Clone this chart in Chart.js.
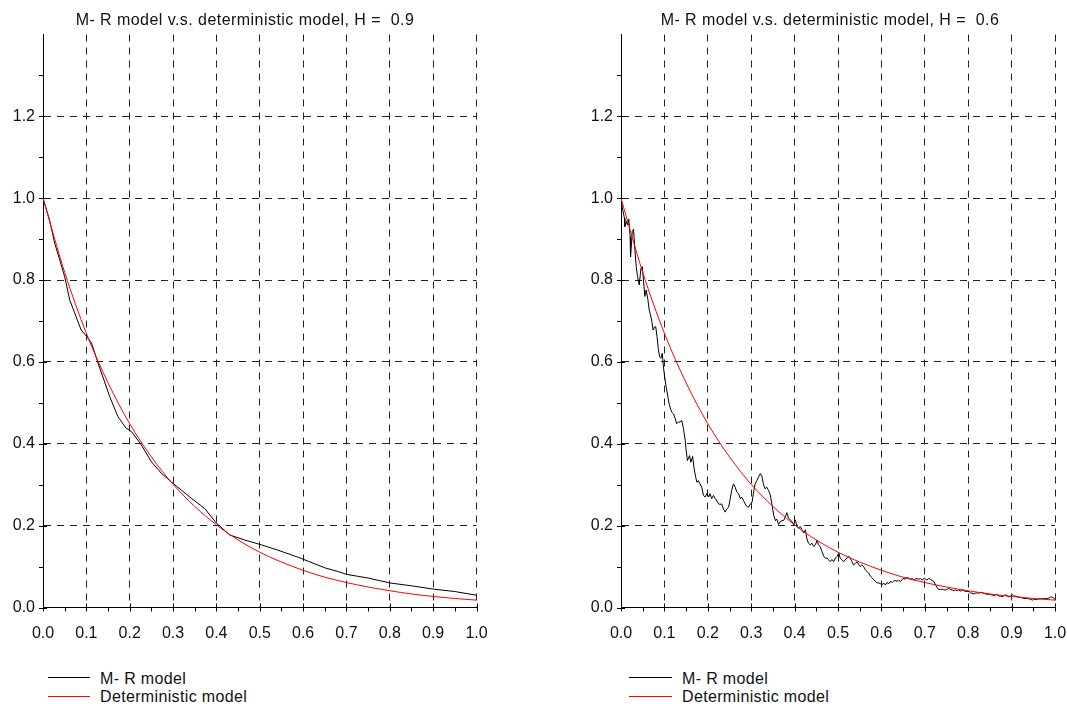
<!DOCTYPE html>
<html><head><meta charset="utf-8">
<script src="https://cdn.jsdelivr.net/npm/chart.js@4.4.1/dist/chart.umd.min.js"></script>
<style>
html,body{margin:0;padding:0;background:#fff;overflow:hidden;}
#wrap{position:relative;width:1067px;height:704px;overflow:hidden;background:#fff;font-family:"Liberation Sans",Arial,sans-serif;}
.cv{position:absolute;top:0;}
.lg{position:absolute;font-size:16px;line-height:16px;color:#111;white-space:pre;letter-spacing:0.35px;}
.ln{position:absolute;height:0;border-top:1px solid;}
</style></head><body>
<div id="wrap">
<div class="cv" style="left:0;width:490px;height:650px"><canvas id="c1"></canvas></div>
<div class="cv" style="left:578px;width:504px;height:650px"><canvas id="c2"></canvas></div>
<div class="ln" style="left:48px;width:42px;top:677px;border-color:#000"></div>
<div class="lg" style="left:100px;top:671px">M- R model</div>
<div class="ln" style="left:48px;width:42px;top:696px;border-color:#ff0000"></div>
<div class="lg" style="left:100px;top:689px">Deterministic model</div>
<div class="ln" style="left:629px;width:43px;top:677px;border-color:#000"></div>
<div class="lg" style="left:682px;top:671px">M- R model</div>
<div class="ln" style="left:629px;width:43px;top:696px;border-color:#ff0000"></div>
<div class="lg" style="left:682px;top:689px">Deterministic model</div>
</div>
<script>
// ---- data ----
const titleLeft = "M- R model v.s. deterministic model, H =  0.9";
const titleRight = "M- R model v.s. deterministic model, H =  0.6";
const seriesNames = ["M- R model", "Deterministic model"];
const xTickValues = [0,0.1,0.2,0.3,0.4,0.5,0.6,0.7,0.8,0.9,1.0];
const yTickValues = [0,0.2,0.4,0.6,0.8,1.0,1.2];

const detT = [0,0.05,0.1,0.15,0.2,0.25,0.3,0.35,0.4,0.45,0.5,0.55,0.6,0.65,0.7,0.75,0.8,0.85,0.9,0.95,1.0];
const detV = [1.000,0.819,0.670,0.549,0.449,0.368,0.301,0.247,0.202,0.165,0.135,0.111,0.091,0.074,0.061,0.050,0.041,0.033,0.027,0.022,0.018];

const mrLeftT = [0,0.015,0.027,0.042,0.05,0.062,0.073,0.088,0.104,0.112,0.127,0.154,0.173,0.192,0.204,0.227,0.25,0.273,0.3,0.319,0.342,0.373,0.4,0.431,0.465,0.504,0.542,0.588,0.6,0.65,0.68,0.7,0.75,0.8,0.85,0.9,0.95,1.0];
const mrLeftV = [1.0,0.947,0.89,0.837,0.808,0.75,0.72,0.678,0.658,0.646,0.597,0.515,0.466,0.438,0.43,0.397,0.356,0.328,0.303,0.287,0.267,0.242,0.206,0.177,0.165,0.153,0.14,0.123,0.118,0.097,0.088,0.081,0.072,0.06,0.053,0.045,0.039,0.03];

const mrRightT = [0,.004,.008,.009,.013,.015,.018,.021,.022,.026,.029,.032,.035,.038,.042,.046,.049,.052,.055,.058,.062,.065,.068,.071,.074,.077,.080,.083,.086,.089,.092,.095,.098,.101,.104,.108,.111,.115,.117,.121,.125,.128,.132,.136,.140,.144,.148,.150,.153,.158,.161,.165,.168,.172,.175,.178,.182,.186,.190,.194,.198,.202,.205,.209,.213,.217,.221,.225,.228,.232,.236,.240,.244,.248,.251,.255,.259,.263,.267,.271,.275,.278,.282,.286,.290,.294,.298,.302,.305,.309,.313,.317,.321,.325,.328,.332,.336,.340,.344,.348,.352,.356,.359,.363,.367,.371,.375,.379,.382,.386,.390,.394,.398,.402,.405,.409,.413,.417,.421,.425,.428,.432,.436,.440,.444,.448,.452,.455,.459,.463,.467,.471,.475,.478,.482,.486,.490,.494,.498,.502,.505,.509,.513,.517,.521,.525,.528,.532,.536,.540,.544,.548,.551,.555,.559,.563,.567,.571,.575,.579,.582,.586,.590,.594,.598,.601,.605,.609,.613,.617,.621,.625,.628,.632,.636,.640,.644,.648,.652,.655,.659,.663,.667,.671,.675,.678,.682,.686,.690,.694,.698,.702,.705,.709,.713,.717,.721,.725,.728,.732,.736,.740,.744,.748,.751,.755,.759,.763,.767,.771,.775,.778,.782,.786,.790,.794,.798,.802,.805,.809,.813,.817,.821,.825,.828,.832,.836,.840,.844,.848,.852,.855,.859,.863,.867,.871,.875,.878,.882,.886,.890,.894,.898,.902,.905,.909,.913,.917,.921,.925,.928,.936,.944,.948,.951,.959,.967,.971,.975,.978,.982,.986,.990,.994,.998,1.0];
const mrRightV = [1.0,.971,.951,.931,.943,.935,.949,.906,.857,.919,.924,.874,.833,.809,.788,.829,.833,.796,.760,.776,.752,.727,.715,.699,.678,.685,.686,.662,.631,.613,.609,.621,.585,.560,.540,.515,.497,.483,.477,.473,.461,.449,.453,.453,.457,.437,.408,.384,.359,.371,.355,.369,.343,.319,.306,.310,.302,.294,.274,.270,.278,.270,.278,.266,.274,.266,.260,.253,.252,.253,.241,.233,.241,.245,.262,.286,.302,.294,.282,.278,.266,.270,.262,.253,.247,.245,.253,.257,.278,.302,.310,.319,.327,.319,.302,.290,.294,.286,.275,.250,.225,.212,.216,.203,.210,.212,.213,.222,.232,.218,.214,.210,.202,.214,.198,.194,.198,.190,.182,.190,.169,.157,.153,.157,.149,.153,.165,.153,.149,.137,.125,.121,.121,.117,.112,.117,.112,.121,.125,.133,.121,.117,.112,.117,.121,.125,.121,.112,.104,.108,.112,.104,.100,.104,.100,.092,.088,.084,.076,.072,.068,.064,.060,.060,.058,.055,.060,.055,.061,.058,.064,.061,.064,.066,.064,.067,.063,.069,.071,.069,.074,.071,.069,.071,.067,.069,.071,.069,.071,.067,.071,.069,.067,.071,.069,.066,.063,.055,.049,.044,.044,.045,.043,.043,.044,.047,.044,.043,.041,.043,.041,.043,.040,.043,.041,.039,.039,.039,.036,.035,.033,.035,.036,.035,.037,.036,.035,.033,.032,.033,.031,.031,.029,.031,.031,.028,.028,.026,.029,.031,.028,.026,.028,.031,.028,.028,.026,.025,.025,.023,.022,.022,.020,.018,.020,.020,.022,.021,.022,.022,.022,.023,.026,.025,.022,.020];

// ---- chart ----
const FONT = "'Liberation Sans', Arial, sans-serif";
const pairs = (xs, ys) => xs.map((x, i) => ({x: x, y: ys[i]}));

const axisTicks = {
  id: 'axisTicks',
  afterLayout(chart) {
    // centre the title on the whole canvas width
    const tb = chart.titleBlock;
    if (tb) { tb.left = 0; tb.right = chart.width; tb.width = chart.width; }
  },
  afterDatasetsDraw(chart) {
    const ctx = chart.ctx, xs = chart.scales.x, ys = chart.scales.y;
    const a = chart.chartArea;
    ctx.save();
    ctx.strokeStyle = '#000'; ctx.lineWidth = 1; ctx.setLineDash([]);
    ctx.beginPath();
    for (let i = 1; i < 20; i += 2) {
      const px = Math.round(xs.getPixelForValue(i / 20)) + 0.5;
      ctx.moveTo(px, a.bottom); ctx.lineTo(px, a.bottom + 4);
    }
    for (let i = 1; i < 14; i += 2) {
      const py = Math.round(ys.getPixelForValue(i / 10)) + 0.5;
      ctx.moveTo(a.left - 4, py); ctx.lineTo(a.left, py);
    }
    xTickValues.forEach(v => {
      const px = Math.round(xs.getPixelForValue(v)) + 0.5;
      ctx.moveTo(px, a.bottom - 4); ctx.lineTo(px, a.bottom + 4);
    });
    yTickValues.forEach(v => {
      const py = Math.round(ys.getPixelForValue(v)) + 0.5;
      ctx.moveTo(a.left - 4, py); ctx.lineTo(a.left + 4, py);
    });
    ctx.stroke();
    ctx.restore();
  }
};

function makeChart(id, title, mrT, mrV, padRight) {
  const chart = new Chart(document.getElementById(id), {
    type: 'scatter',
    data: {
      datasets: [
        {label: seriesNames[0], data: pairs(mrT, mrV), showLine: true, borderColor: '#000', borderWidth: 1, pointRadius: 0, tension: 0, order: 2},
        {label: seriesNames[1], data: pairs(detT, detV), showLine: true, borderColor: '#ff0000', borderWidth: 1, pointRadius: 0, cubicInterpolationMode: 'monotone', order: 1}
      ]
    },
    options: {
      responsive: true, maintainAspectRatio: false, animation: false,
      layout: {padding: {left: 0, right: padRight, top: 0, bottom: 2.5}},
      plugins: {
        legend: {display: false}, tooltip: {enabled: false},
        title: {display: true, text: title, color: '#111', font: {family: FONT, size: 16, weight: 'normal', lineHeight: 1.2}, padding: {top: 10.7, bottom: 4.6}}
      },
      scales: {
        x: {
          type: 'linear', min: 0, max: 1,
          afterBuildTicks: s => { s.ticks = xTickValues.map(v => ({value: v})); },
          afterFit: s => { s.height = 40; },
          ticks: {autoSkip: false, maxRotation: 0, color: '#111', padding: 0, font: {family: FONT, size: 16}, callback: v => Number(v).toFixed(1)},
          grid: {color: '#222', lineWidth: 1, drawTicks: true, tickLength: 16.5, tickColor: 'rgba(0,0,0,0)'},
          border: {display: true, color: '#000', width: 1, dash: [7, 6]}
        },
        y: {
          type: 'linear', min: 0, max: 1.4,
          afterBuildTicks: s => { s.ticks = yTickValues.map(v => ({value: v})); },
          afterFit: s => { s.width = 43; },
          ticks: {color: '#111', padding: 0, font: {family: FONT, size: 16}, callback: v => Number(v).toFixed(1)},
          grid: {color: '#222', lineWidth: 1, drawTicks: true, tickLength: 8, tickColor: 'rgba(0,0,0,0)'},
          border: {display: true, color: '#000', width: 1, dash: [7, 6]}
        }
      }
    },
    plugins: [axisTicks]
  });
  // slightly wider letter spacing for the title, as in the original rendering
  const tb = chart.titleBlock;
  if (tb) {
    const origDraw = tb.draw.bind(tb);
    tb.draw = function () {
      const ctx = chart.ctx;
      ctx.save();
      if ('letterSpacing' in ctx) ctx.letterSpacing = '0.45px';
      origDraw();
      ctx.restore();
    };
    chart.draw();
  }
  return chart;
}
makeChart('c1', titleLeft, mrLeftT, mrLeftV, 13.5);
makeChart('c2', titleRight, mrRightT, mrRightV, 27);
</script>
</body></html>
